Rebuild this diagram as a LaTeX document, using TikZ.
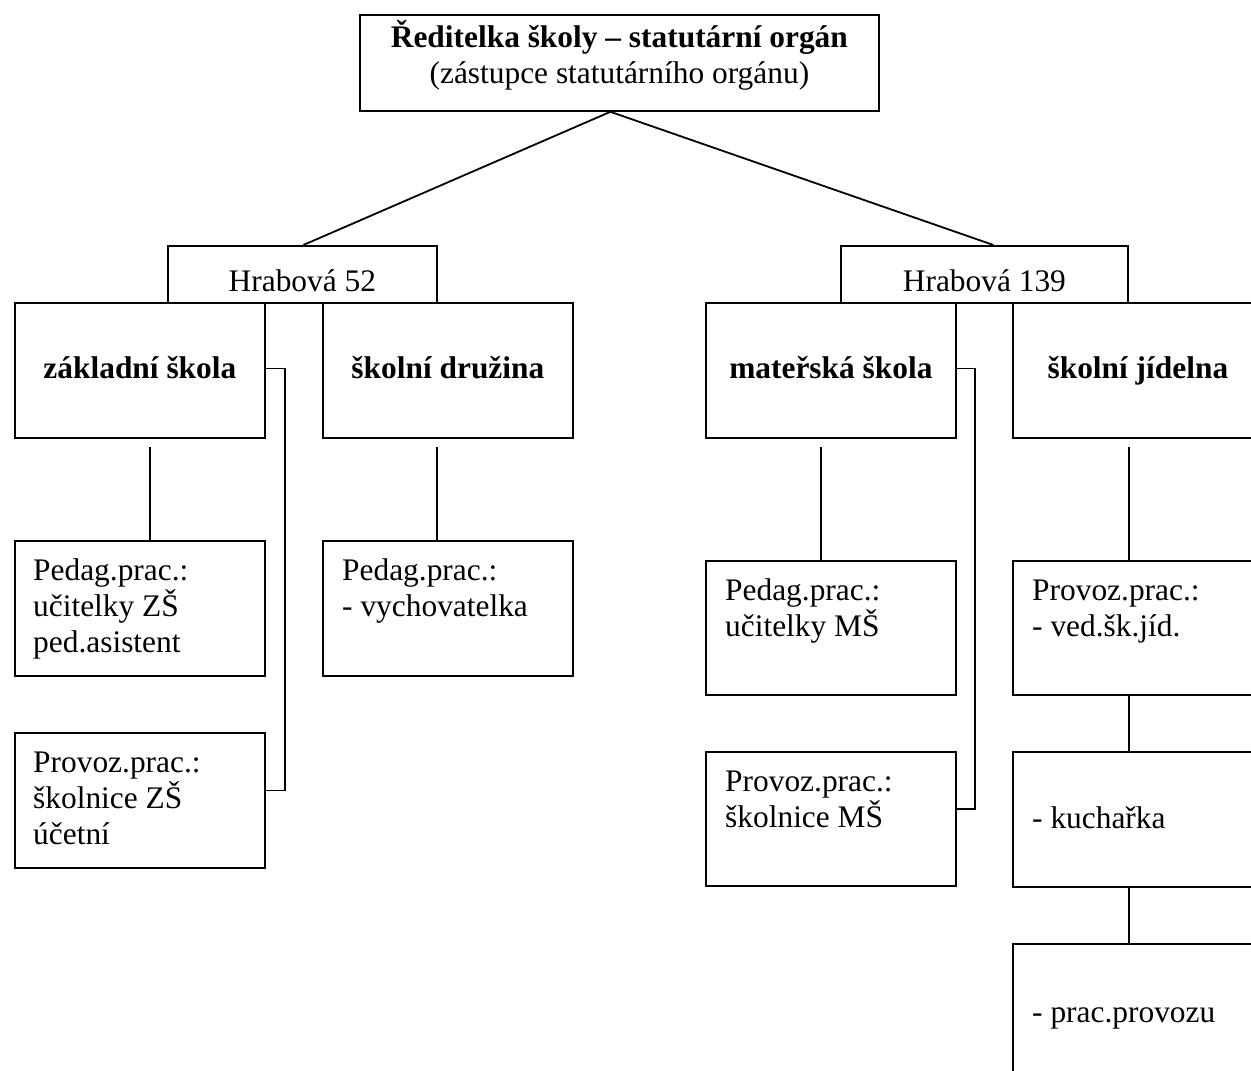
\documentclass[tikz,border=0pt]{standalone}
\usepackage{fontspec}
\setmainfont{Liberation Serif}
\usepackage{tikz}
\usetikzlibrary{positioning}
\newcommand{\orgfont}{\fontsize{31.4}{36}\selectfont}
\tikzset{
  orgbox/.style={draw, line width=1.8pt, inner sep=0pt, anchor=north west, minimum width=250pt, minimum height=135pt},
  link/.style={line width=1.8pt},
  headtxt/.style={anchor=base, inner sep=0pt, font=\orgfont\bfseries},
  bodytxt/.style={anchor=base west, inner sep=0pt, font=\orgfont}
}

\begin{document}
\begin{tikzpicture}[x=1pt, y=-1pt]
            \useasboundingbox (0,0) rectangle (1251,1071);
            \clip (0,0) rectangle (1251,1071);

            \node[orgbox, minimum width=519pt, minimum height=96pt] (ved) at (359,14) {};
            \node[headtxt] (vedtxt) at ([yshift=-33pt]ved.north) {\parbox[t]{510pt}{\centering Ředitelka školy – statutární orgán\\\mdseries (zástupce statutárního orgánu)}};

            \node[orgbox, minimum width=269pt, minimum height=57pt] (h52) at (167,245) {};
            \node[bodytxt, anchor=base] (h52txt) at ([yshift=-46pt]h52.north) {Hrabová 52};
            \node[orgbox, minimum width=287pt, minimum height=57pt] (h139) at (840,245) {};
            \node[bodytxt, anchor=base] (h139txt) at ([yshift=-46pt]h139.north) {Hrabová 139};

            \node[orgbox] (zs) at (14,302) {};
            \node[headtxt] (zstxt) at ([yshift=-76pt]zs.north) {základní škola};
            \node[orgbox] (sd) at (322,302) {};
            \node[headtxt] (sdtxt) at ([yshift=-76pt]sd.north) {školní družina};
            \node[orgbox] (ms) at (705,302) {};
            \node[headtxt] (mstxt) at ([yshift=-76pt]ms.north) {mateřská škola};
            \node[orgbox] (sj) at (1012,302) {};
            \node[headtxt] (sjtxt) at ([yshift=-76pt]sj.north) {školní jídelna};

            \node[orgbox] (zsped) at (14,540) {};
            \node[bodytxt] (zspedtxt) at ([xshift=19pt, yshift=-40pt]zsped.north west) {\parbox[t]{230pt}{Pedag.prac.:\\učitelky ZŠ\\ped.asistent}};
            \node[orgbox] (zsprov) at (14,732) {};
            \node[bodytxt] (zsprovtxt) at ([xshift=19pt, yshift=-40pt]zsprov.north west) {\parbox[t]{230pt}{Provoz.prac.:\\školnice ZŠ\\účetní}};
            \node[orgbox] (sdped) at (322,540) {};
            \node[bodytxt] (sdpedtxt) at ([xshift=20pt, yshift=-40pt]sdped.north west) {\parbox[t]{230pt}{Pedag.prac.:\\- vychovatelka}};

            \node[orgbox, minimum height=134pt] (msped) at (705,560) {};
            \node[bodytxt] (mspedtxt) at ([xshift=20pt, yshift=-40pt]msped.north west) {\parbox[t]{230pt}{Pedag.prac.:\\učitelky MŠ}};
            \node[orgbox, minimum height=134pt] (msprov) at (705,751) {};
            \node[bodytxt] (msprovtxt) at ([xshift=20pt, yshift=-40pt]msprov.north west) {\parbox[t]{230pt}{Provoz.prac.:\\školnice MŠ}};
            \node[orgbox, minimum height=134pt] (sjprov) at (1012,560) {};
            \node[bodytxt] (sjprovtxt) at ([xshift=20pt, yshift=-40pt]sjprov.north west) {\parbox[t]{230pt}{Provoz.prac.:\\- ved.šk.jíd.}};
            \node[orgbox] (sjkuch) at (1012,751) {};
            \node[bodytxt] (sjkuchtxt) at ([xshift=20pt, yshift=-77pt]sjkuch.north west) {- kuchařka};
            \node[orgbox, minimum height=150pt] (sjprac) at (1012,943) {};
            \node[bodytxt] (sjpractxt) at ([xshift=20pt, yshift=-79pt]sjprac.north west) {- prac.provozu};

            \draw[link] ([xshift=-9pt]ved.south) -- ([xshift=1pt]h52.north);
            \draw[link] ([xshift=-9pt]ved.south) -- ([xshift=9pt]h139.north);
            \draw[link] ([xshift=10pt, yshift=-8pt]zs.south) -- ([xshift=10pt]zsped.north);
            \draw[link] ([xshift=-11pt, yshift=-8pt]sd.south) -- ([xshift=-11pt]sdped.north);
            \draw[link] ([xshift=-10pt, yshift=-8pt]ms.south) -- ([xshift=-10pt]msped.north);
            \draw[link] ([xshift=-9pt, yshift=-8pt]sj.south) -- ([xshift=-9pt]sjprov.north);
            \draw[link] ([xshift=-9pt]sjprov.south) -- ([xshift=-9pt]sjkuch.north);
            \draw[link] ([xshift=-9pt]sjkuch.south) -- ([xshift=-9pt]sjprac.north);
            \draw[link] ([yshift=2pt]zs.east) -- ++(19,0) |- ([yshift=10pt]zsprov.east);
            \draw[link] ([yshift=2pt]ms.east) -- ++(18,0) |- ([yshift=10pt]msprov.east);
        \end{tikzpicture}
\end{document}
